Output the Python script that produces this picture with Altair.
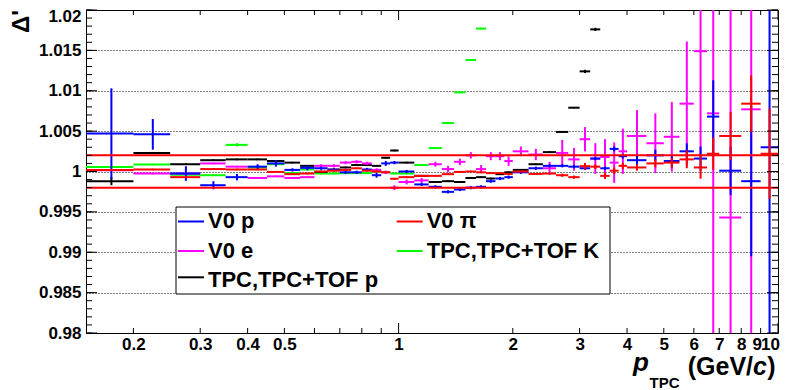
import altair as alt
import pandas as pd
import numpy as np

W, H = 692, 323
FONT = "Liberation Sans"

# ---------------- data ----------------
bin_lo = [0.15, 0.2, 0.25, 0.3, 0.35, 0.4, 0.45, 0.5, 0.55, 0.6, 0.65, 0.7, 0.75, 0.8, 0.85, 0.9, 0.95,
          1.0, 1.1, 1.2, 1.3, 1.4, 1.5, 1.6, 1.7, 1.8, 1.9,
          2.0, 2.2, 2.4, 2.6, 2.8, 3.0, 3.2, 3.4, 3.6, 3.8, 4.0, 4.5, 5.0, 5.5, 6.0, 6.5, 7.0, 8.0, 9.0]
bin_hi = [0.2, 0.25, 0.3, 0.35, 0.4, 0.45, 0.5, 0.55, 0.6, 0.65, 0.7, 0.75, 0.8, 0.85, 0.9, 0.95, 1.0,
          1.1, 1.2, 1.3, 1.4, 1.5, 1.6, 1.7, 1.8, 1.9, 2.0,
          2.2, 2.4, 2.6, 2.8, 3.0, 3.2, 3.4, 3.6, 3.8, 4.0, 4.5, 5.0, 5.5, 6.0, 6.5, 7.0, 8.0, 9.0, 10.0]

v0p_y = [1.0047, 1.0046, 0.99975, 0.9983, 0.9993, 1.0006, 1.0010, 1.0002, 1.00045, 1.0004, 1.0002, 0.9999, 0.9999, 1.00025, 0.99954, 1.0010, 1.0011,
         1.0000, 0.9984, 0.9981, 0.99748, 0.99777, 0.9980, 0.9981, 0.9988, 0.99913, 0.9993,
         0.9999, 1.0004, 1.0007, 1.0007, 1.0006, 1.0004, 1.0016, 1.0004, 1.0028, 1.0019, 1.0014, 1.0020, 1.0013, 1.0025, 1.0016, 1.0068, 1.0001, 0.9988, 1.0030]
v0p_e = [0.0056, 0.0019, 0.0009, 0.0005, 0.0004, 0.0003, 0.0004, 0.0002, 0.0003, 0.0002, 0.0002, 0.0002, 0.0002, 0.0002, 0.0003, 0.0003, 0.0002,
         0.0002, 0.0002, 0.0002, 0.0002, 0.0002, 0.0002, 0.0002, 0.0002, 0.0002, 0.0002,
         0.0002, 0.0002, 0.0002, 0.0002, 0.0002, 0.0002, 0.0002, 0.0002, 0.0003, 0.0003, 0.0006, 0.0007, 0.0008, 0.0010, 0.0015, 0.0045, 0.0030, 0.0093, 0.0300]

v0pi_y = [1.0002, 1.00025, 0.9993, 1.0003, 1.00025, 1.00025, 0.99995, 0.99967, 0.99975, 1.0000, 1.0001, 1.0002, 1.0004, 1.0001, 1.0000, 0.9999, 0.9991,
          0.9993, 0.99946, 0.99946, 0.99967, 0.99995, 1.0000, 0.9999, 0.9998, 0.9998, 0.9997,
          1.0000, 0.9997, 0.99975, 0.99954, 0.9993, 1.00066, 1.0006, 0.99946, 1.0001, 1.0007, 1.0005, 1.0010, 1.0011, 1.0015, 1.0005, 1.0022, 1.0044, 1.0084, 1.0022]
v0pi_e = [0.0001, 0.0001, 0.0001, 0.0001, 0.0001, 0.0001, 0.0001, 0.0001, 0.0001, 0.0001, 0.0001, 0.0001, 0.0001, 0.0001, 0.0001, 0.0001, 0.0001,
          0.0001, 0.0001, 0.0001, 0.0001, 0.0001, 0.0001, 0.0001, 0.0001, 0.0001, 0.0001,
          0.0001, 0.0001, 0.0001, 0.0002, 0.0002, 0.0004, 0.0003, 0.0004, 0.0004, 0.0004, 0.0004, 0.0005, 0.0006, 0.0011, 0.0014, 0.0020, 0.0030, 0.0035, 0.0056]

v0e_y = [1.00016, 0.99975, 0.99975, 1.0010, 1.0006, 0.9992, 0.9994, 0.9992, 0.9993, 1.0007, 1.0007, 1.0011, 1.0012, 1.0010, 1.0002, 0.9999, 0.9980,
         0.9987, 0.9989, 1.0009, 1.0003, 1.0012, 1.0020, 1.0003, 1.0019, 1.0019, 1.0013,
         1.0025, 1.0021, 1.0004, 1.0023, 1.0015, 1.0040, 1.0016, 1.0018, 1.0011, 1.0025, 1.0044, 1.0035, 1.0043, 1.0084, 1.0149, 1.0072, 0.9943, 1.0077, None]
v0e_e = [0.0001, 0.0001, 0.0001, 0.0001, 0.0001, 0.0001, 0.0001, 0.0001, 0.0001, 0.0002, 0.0002, 0.0002, 0.0002, 0.0002, 0.0002, 0.0002, 0.0003,
         0.0003, 0.0003, 0.0003, 0.0004, 0.0004, 0.0004, 0.0005, 0.0005, 0.0005, 0.0006,
         0.0006, 0.0007, 0.0008, 0.0016, 0.0014, 0.0015, 0.0019, 0.0022, 0.0025, 0.0028, 0.0032, 0.0037, 0.0043, 0.0077, 0.0128, 0.0350, 0.0350, 0.0350, None]

tpcp_y = [0.9988, 1.0023, 1.0009, 1.0014, 1.0015, 1.0015, 1.0013, 1.0011, 1.0007, 0.99995, 1.00025, 1.0005, 1.0008, 1.0008, 1.0007, 1.0017, 1.0026,
          1.0011, 0.99946, 0.9987, 0.9988, 0.9987, 0.9992, 0.9993, 0.99913, 0.99967, 0.9999,
          1.0002, 1.0009, 1.0024, 1.0049, 1.0079, 1.0124, 1.0176, None, None, None, None, None, None, None, None, None, None, None, None]
tpcp_e = [0.0005, 0.0001, 0.0001, 0.0001, 0.0001, 0.0001, 0.0001, 0.0001, 0.0001, 0.0001, 0.0001, 0.0001, 0.0001, 0.0001, 0.0001, 0.0001, 0.0001,
          0.0001, 0.0001, 0.0001, 0.0001, 0.0001, 0.0001, 0.0001, 0.0001, 0.0001, 0.0001,
          0.0001, 0.0001, 0.0001, 0.0001, 0.0001, 0.0002, 0.0002, None, None, None, None, None, None, None, None, None, None, None, None]

tpck_y = [1.00057, 1.00087, 0.9996, 0.99954, 1.0033, 1.0005, 1.0009, 0.9998, 1.00025, 0.99975, 0.99975, 0.9998, 0.9998, 0.9998, 1.0000, 0.99995, 0.99975,
          0.99975, 1.0008, 1.0029, 1.0060, 1.0098, 1.0138, 1.0177, None, None, None,
          None, None, None, None, None, None, None, None, None, None, None, None, None, None, None, None, None, None, None]
tpck_e = [0.0001, 0.0001, 0.0001, 0.0001, 0.0002, 0.0001, 0.0001, 0.0001, 0.0001, 0.0001, 0.0001, 0.0001, 0.0001, 0.0001, 0.0001, 0.0001, 0.0001,
          0.0001, 0.0001, 0.0001, 0.0001, 0.0001, 0.0001, 0.0001, None, None, None,
          None, None, None, None, None, None, None, None, None, None, None, None, None, None, None, None, None, None, None]

band_limits = [0.998, 1.002]

y_major = [0.98, 0.985, 0.99, 0.995, 1.0, 1.005, 1.01, 1.015, 1.02]
x_labels = [0.2, 0.3, 0.4, 0.5, 1, 2, 3, 4, 5, 6, 7, 8, 9, 10]
x_major_ticks = [1, 10]
x_minor_ticks = [0.2, 0.3, 0.4, 0.5, 0.6, 0.7, 0.8, 0.9, 2, 3, 4, 5, 6, 7, 8, 9]
y_minor_ticks = [round(0.98 + 0.001 * i, 3) for i in range(41)]

names = {"p": "V0 p", "pi": "V0  π", "e": "V0 e", "K": "TPC,TPC+TOF K", "tp": "TPC,TPC+TOF p"}
colors = {"p": "#0000ff", "pi": "#ff0000", "e": "#ff00ff", "K": "#00ff00", "tp": "#000000"}

# ---------------- scales & axes ----------------
xs = alt.Scale(type="log", domain=[0.15, 10])
ys = alt.Scale(domain=[0.98, 1.02])
AX_Y = alt.Axis(values=y_major, format="~g", grid=True, gridDash=[1, 2], gridColor="black", gridWidth=1,
                gridOpacity=1, ticks=False, tickSize=0, domain=False, labelFont=FONT, labelFontSize=17,
                labelFontWeight="bold", labelColor="black", labelPadding=5, title=None,
                labelOverlap=False, labelFlush=False,
                labelBaseline=alt.ExprRef("datum.value > 1.0195 ? 'top' : 'middle'"),
                labelOffset=alt.ExprRef("datum.value > 1.0195 ? -2 : 0"))
AX_X = alt.Axis(values=x_labels, format="~g", grid=False, ticks=False, tickSize=0, domain=False, labelFont=FONT,
                labelFontSize=17, labelFontWeight="bold", labelColor="black", labelPadding=3,
                title=None, labelOverlap=False, labelFlush=False,
                labelAlign=alt.ExprRef("datum.value > 9.5 ? 'right' : 'center'"),
                labelOffset=alt.ExprRef("datum.value > 9.5 ? 1.5 : (datum.value > 8.5 ? -4 : 0)"))


def X(f):
    return alt.X(f, type="quantitative", scale=xs, axis=AX_X)


def Y(f):
    return alt.Y(f, type="quantitative", scale=ys, axis=AX_Y)


def series_df(yv, ev):
    rows = []
    for lo, hi, y, e in zip(bin_lo, bin_hi, yv, ev):
        if y is None:
            continue
        rows.append(dict(lo=lo, hi=hi, xc=(lo + hi) / 2, y=y, ylo=y - e, yhi=y + e))
    return pd.DataFrame(rows)


layers = []

# axis carrier layers (labels + dotted grid)
layers.append(alt.Chart(pd.DataFrame({"v": y_major})).mark_rule(opacity=0).encode(y=Y("v")))
layers.append(alt.Chart(pd.DataFrame({"v": x_labels})).mark_rule(opacity=0).encode(x=X("v")))

draw_order = [("K", tpck_y, tpck_e), ("tp", tpcp_y, tpcp_e), ("e", v0e_y, v0e_e),
              ("p", v0p_y, v0p_e), ("pi", v0pi_y, v0pi_e)]
for key, yv, ev in draw_order:
    d = series_df(yv, ev)
    c = colors[key]
    hb = alt.Chart(d).mark_rule(color=c, strokeWidth=2, clip=True).encode(x=X("lo"), x2="hi:Q", y=Y("y"))
    vb = alt.Chart(d).mark_rule(color=c, strokeWidth=2, clip=True).encode(x=X("xc"), y=Y("ylo"), y2="yhi:Q")
    layers += [hb, vb]

# red band lines
layers.append(alt.Chart(pd.DataFrame({"v": band_limits})).mark_rule(color="#ff0000", strokeWidth=2).encode(y=Y("v")))


# ROOT style inward ticks
def yticks(vals, length, right=False):
    x0, x1 = (W, W - length) if right else (0, length)
    return alt.Chart(pd.DataFrame({"v": vals})).mark_rule(color="black", strokeWidth=1).encode(
        y=Y("v"), x=alt.value(x0), x2=alt.value(x1))


def xticks(vals, length, top=False):
    y0, y1 = (0, length) if top else (H, H - length)
    return alt.Chart(pd.DataFrame({"v": vals})).mark_rule(color="black", strokeWidth=1).encode(
        x=X("v"), y=alt.value(y0), y2=alt.value(y1))


layers += [yticks(y_minor_ticks, 6), yticks(y_major, 11), yticks(y_minor_ticks, 6, True), yticks(y_major, 11, True),
           xticks(x_minor_ticks, 5), xticks(x_major_ticks, 10), xticks(x_minor_ticks, 5, True), xticks(x_major_ticks, 10, True)]


def txt(s, x, y, size, style="normal", align="left", baseline="alphabetic", angle=0, weight="bold"):
    return alt.Chart(pd.DataFrame({"t": [s]})).mark_text(
        font=FONT, fontSize=size, fontWeight=weight, fontStyle=style, align=align, baseline=baseline,
        angle=angle, color="black").encode(text="t:N", x=alt.value(x), y=alt.value(y))


# legend box
layers.append(alt.Chart(pd.DataFrame({"a": [0]})).mark_rect(fill="white", stroke="black", strokeWidth=1).encode(
    x=alt.value(90), x2=alt.value(524), y=alt.value(197), y2=alt.value(284)))
legend_slots = [("p", 92, 211.5, 218.3), ("e", 92, 241, 248.3), ("tp", 92, 267.3, 276.7),
                ("pi", 310.7, 211.5, 218.3), ("K", 310.7, 241, 248.3)]
for key, lx, ly, tyb in legend_slots:
    layers.append(alt.Chart(pd.DataFrame({"a": [0]})).mark_rule(color=colors[key], strokeWidth=2).encode(
        x=alt.value(lx), x2=alt.value(lx + 26), y=alt.value(ly)))
    layers.append(txt(names[key], lx + 30, tyb, 22))

# axis titles
layers.append(txt("Δ'", -64, 0, 24, align="right", baseline="middle", angle=270))
layers.append(txt("p", 547, 361, 26, style="italic"))
layers.append(txt("TPC", 563.5, 378, 15))
layers.append(txt("(GeV/", 667, 365, 25, align="right"))
layers.append(txt("c", 681, 365, 25, style="italic", align="right"))
layers.append(txt(")", 689.5, 365, 25, align="right"))

chart = alt.layer(*layers).properties(
    width=W, height=H, autosize=alt.AutoSizeParams(type="none"),
    padding={"left": 78, "top": 2, "right": 2, "bottom": 60}, background="white"
).configure_view(stroke="black", strokeWidth=1)

chart.save("out.html", embed_options={"renderer": "svg", "actions": False})
